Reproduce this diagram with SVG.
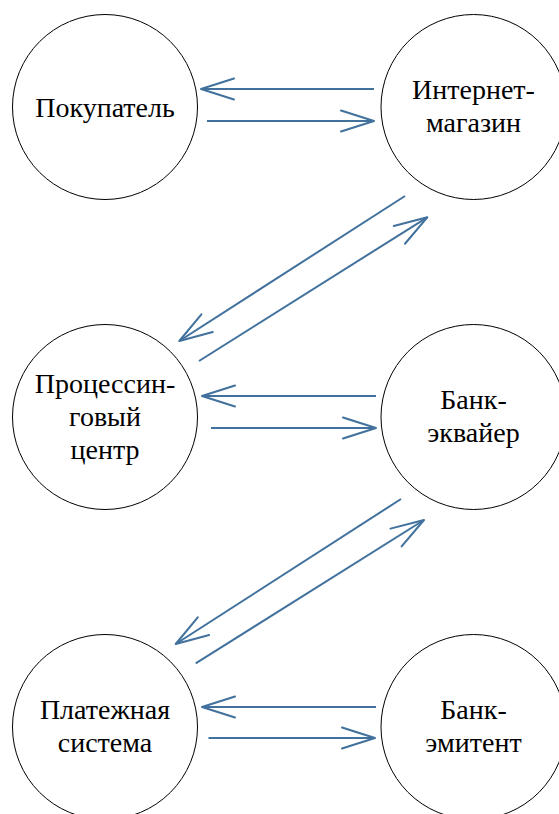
<svg xmlns="http://www.w3.org/2000/svg" width="559" height="814" viewBox="0 0 559 814">
<style>
.node circle{fill:#fff;stroke:#000;stroke-width:1}
.node text{font-size:28px;fill:#000;text-anchor:middle}
.conn line{stroke:#41719C;stroke-width:2;marker-end:url(#ah)}
</style>
<defs>
<marker id="ah" markerUnits="userSpaceOnUse" markerWidth="40" markerHeight="30" viewBox="-36 -14 40 28" refX="0" refY="0" orient="auto">
<path d="M-33,-10.5 L0,0 L-33,10.5" fill="none" stroke="#41719C" stroke-width="2" stroke-linejoin="round" stroke-linecap="round"/>
</marker>
</defs>
<rect width="559" height="814" fill="#fff"/>
<g font-family="'Liberation Serif', 'Times New Roman', serif">
<g id="n1" class="node"><circle cx="105" cy="107" r="92.5"/><text x="105" y="116.5">Покупатель</text></g>
<g id="n2" class="node"><circle cx="473.5" cy="107" r="92.5"/><text x="473.5" y="99">Интернет-</text><text x="473.5" y="132">магазин</text></g>
<g id="n3" class="node"><circle cx="105" cy="417" r="92.5"/><text x="105" y="393">Процессин-</text><text x="105" y="426">говый</text><text x="105" y="459">центр</text></g>
<g id="n4" class="node"><circle cx="473.5" cy="417" r="92.5"/><text x="473.5" y="409">Банк-</text><text x="473.5" y="442">эквайер</text></g>
<g id="n5" class="node"><circle cx="105" cy="727" r="92.5"/><text x="105" y="719">Платежная</text><text x="105" y="752">система</text></g>
<g id="n6" class="node"><circle cx="473.5" cy="727" r="92.5"/><text x="473.5" y="719">Банк-</text><text x="473.5" y="752">эмитент</text></g>
</g>
<g id="connectors" class="conn">
<line x1="374" y1="89" x2="201" y2="89"/>
<line x1="207" y1="121" x2="374" y2="121"/>
<line x1="405" y1="196" x2="179.3" y2="341"/>
<line x1="199" y1="361" x2="427.3" y2="217.3"/>
<line x1="376" y1="396" x2="202" y2="396"/>
<line x1="211" y1="428" x2="376" y2="428"/>
<line x1="401" y1="499" x2="175.7" y2="644"/>
<line x1="195.7" y1="663.3" x2="424" y2="520"/>
<line x1="376" y1="707" x2="202" y2="707"/>
<line x1="208.5" y1="738" x2="375" y2="738"/>
</g>
</svg>
